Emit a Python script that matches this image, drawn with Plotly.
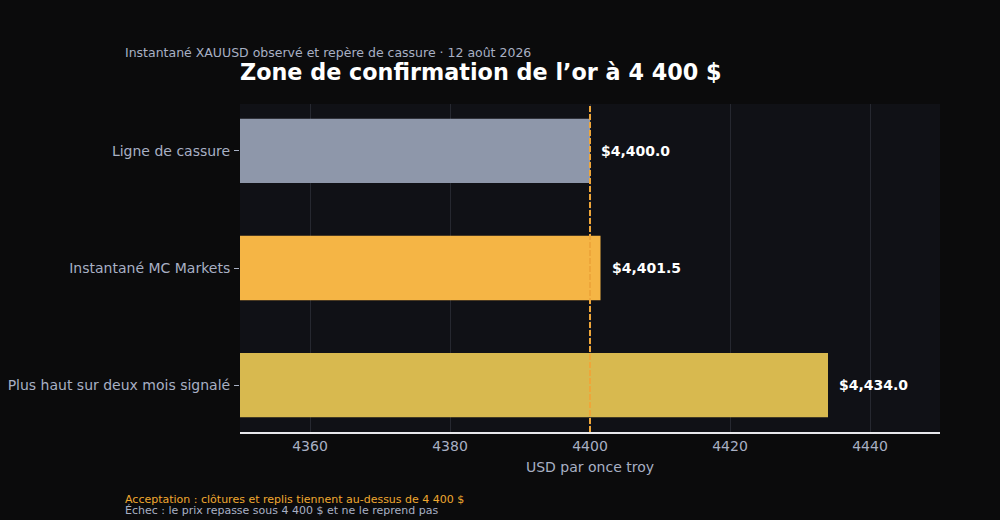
import plotly.graph_objects as go

categories = ["Ligne de cassure", "Instantané MC Markets", "Plus haut sur deux mois signalé"]
prices = [4400.0, 4401.5, 4434.0]
bar_colors = ["#8e97aa", "#f5b545", "#d8b94f"]
breakout_level = 4400
x_ticks = [4360, 4380, 4400, 4420, 4440]

labels = ["${:,.1f}".format(p) for p in prices]

fig = go.Figure()
fig.add_trace(go.Bar(
    x=prices,
    y=categories,
    orientation="h",
    marker=dict(color=bar_colors, line=dict(width=0)),
    width=0.55,
    cliponaxis=False,
    hoverinfo="skip",
))

# value labels just right of each bar
for cat, price, lab in zip(categories, prices, labels):
    fig.add_annotation(
        x=price, y=cat, xref="x", yref="y",
        text="<b>" + lab + "</b>", showarrow=False,
        xanchor="left", yanchor="middle", xshift=9,
        font=dict(color="#ffffff", size=14),
    )

fig.add_shape(
    type="line", xref="x", yref="paper",
    x0=breakout_level, x1=breakout_level, y0=0, y1=1,
    line=dict(color="#eea63a", width=2, dash="6px,2px"),
    layer="above",
)

fig.update_layout(
    width=1000, height=520,
    margin=dict(l=240, r=60, t=104, b=88, autoexpand=False),
    paper_bgcolor="#0b0b0c",
    plot_bgcolor="#101116",
    font=dict(family="DejaVu Sans", color="#a8b0c4", size=14),
    showlegend=False,
    title=dict(
        text="<b>Zone de confirmation de l’or à 4 400 $</b>",
        x=240 / 1000, xref="container", xanchor="left",
        y=1 - 72 / 520, yref="container", yanchor="middle",
        font=dict(size=22.3, color="#ffffff"),
    ),
    xaxis=dict(
        range=[4350, 4450],
        tickvals=x_ticks,
        showgrid=True, gridcolor="#262830", gridwidth=1,
        zeroline=False,
        showline=True, linecolor="#e8e8ec", linewidth=1.5,
        ticks="", tickfont=dict(size=14, color="#a8b0c4"),
        title=dict(text="USD par once troy", font=dict(size=14, color="#a8b0c4"), standoff=10),
        automargin=False,
    ),
    yaxis=dict(
        categoryorder="array", categoryarray=categories,
        range=[2.4, -0.4],
        showgrid=False, zeroline=False, showline=False,
        ticks="outside", ticklen=5, tickcolor="#a8b0c4",
        ticklabelstandoff=1,
        tickfont=dict(size=14, color="#a8b0c4"),
        automargin=False,
    ),
)

fig.add_annotation(
    text="Instantané XAUUSD observé et repère de cassure · 12 août 2026",
    xref="paper", yref="paper", x=-117 / 700, y=1 + 51 / 328,
    xanchor="left", yanchor="middle", showarrow=False,
    font=dict(size=12.5, color="#a8b0c4"),
)
fig.add_annotation(
    text="Acceptation : clôtures et replis tiennent au-dessus de 4 400 $",
    xref="paper", yref="paper", x=-117 / 700, y=-67 / 328,
    xanchor="left", yanchor="middle", showarrow=False,
    font=dict(size=11, color="#f0a830"),
)
fig.add_annotation(
    text="Échec : le prix repasse sous 4 400 $ et ne le reprend pas",
    xref="paper", yref="paper", x=-117 / 700, y=-79 / 328,
    xanchor="left", yanchor="middle", showarrow=False,
    font=dict(size=11, color="#a8b0c4"),
)

fig.write_html(
    "out.html",
    config={"displayModeBar": False},
    post_script="document.body.style.margin='0';document.body.style.background='#0b0b0c';",
)
